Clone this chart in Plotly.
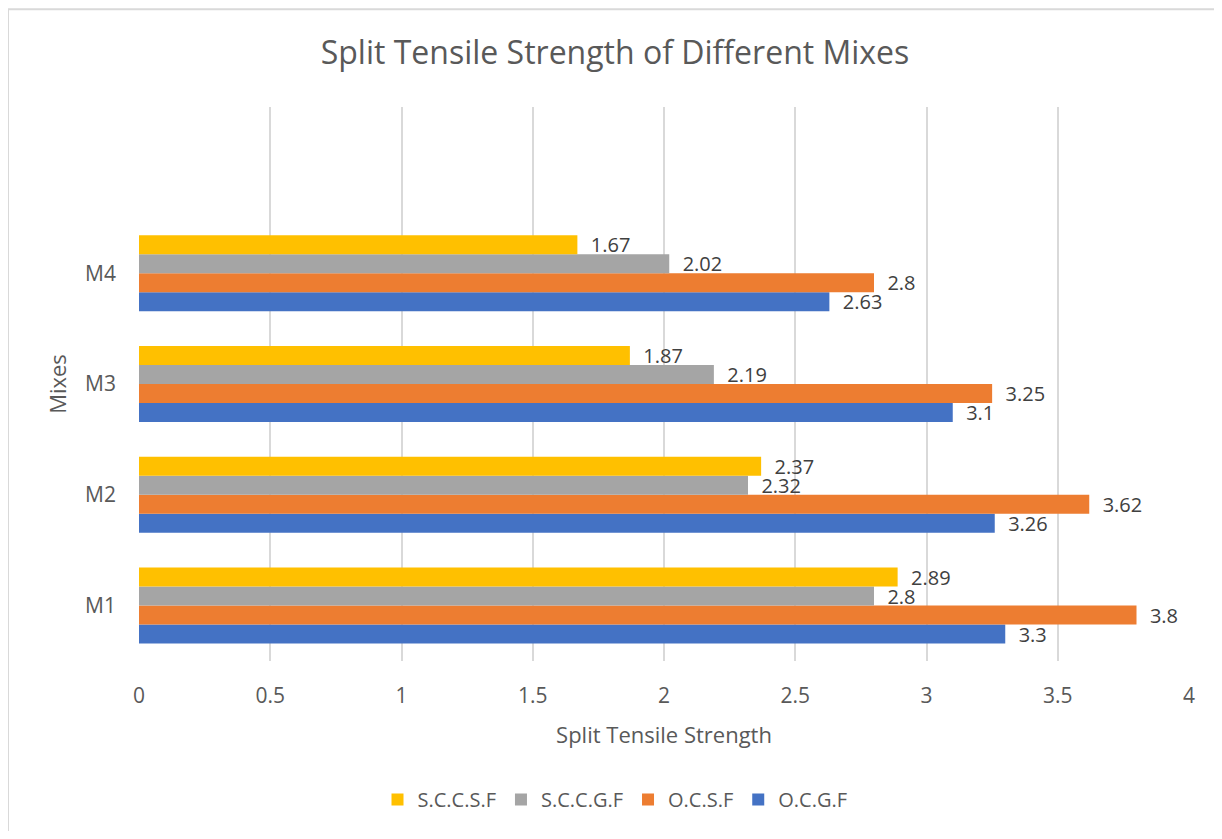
import plotly.graph_objects as go

categories = ["M1", "M2", "M3", "M4"]
ocgf = [3.3, 3.26, 3.1, 2.63]
ocsf = [3.8, 3.62, 3.25, 2.8]
sccgf = [2.8, 2.32, 2.19, 2.02]
sccsf = [2.89, 2.37, 1.87, 1.67]
x_ticks = [0, 0.5, 1, 1.5, 2, 2.5, 3, 3.5, 4]

series = [
    ("O.C.G.F", ocgf, "#4472C4"),
    ("O.C.S.F", ocsf, "#ED7D31"),
    ("S.C.C.G.F", sccgf, "#A5A5A5"),
    ("S.C.C.S.F", sccsf, "#FFC000"),
]

FONT = "Open Sans"
TXT = "#595959"
OFF = 8  # page body margin

fig = go.Figure()
for name, vals, col in series:
    fig.add_trace(go.Bar(
        y=categories, x=vals, name=name, orientation="h",
        marker=dict(color=col, line=dict(width=0)),
        text=[f"\u00a0\u00a0{v:g}" for v in vals],
        textposition="outside", cliponaxis=False, constraintext="none",
        textfont=dict(family=FONT, size=20, color="#404040"),
    ))

W, H = 1222 - 2 * OFF, 839 - 2 * OFF
L, R, T = 139 - OFF, W - (1189 - OFF), 107 - OFF
B = H - (663 - OFF)
pw, ph = W - L - R, H - T - B

def px(x):
    return (x - OFF - L) / pw

def py(y):
    return (H - B - (y - OFF)) / ph

fig.update_layout(
    width=W, height=H,
    margin=dict(l=L, r=R, t=T, b=B),
    paper_bgcolor="white", plot_bgcolor="white",
    barmode="group", bargap=0.314, bargroupgap=0,
    font=dict(family=FONT, color=TXT),
    title=dict(text="Split Tensile Strength of Different Mixes",
               x=(615 - OFF) / W, xanchor="center", y=1 - (53 - OFF) / H, yanchor="middle",
               yref="container", font=dict(size=32, color=TXT, family=FONT)),
    xaxis=dict(range=[0, 4], tickvals=x_ticks, ticktext=[f"{t:g}" for t in x_ticks],
               showgrid=True, gridcolor="#D9D9D9", gridwidth=2, automargin=False,
               zeroline=False, showline=False, ticks="",
               ticklabelstandoff=20,
               tickfont=dict(size=21, color=TXT, family=FONT),
               title=dict(text="Split Tensile Strength", standoff=19,
                          font=dict(size=22, color=TXT, family=FONT))),
    yaxis=dict(range=[-0.5, 4.5], showgrid=False, zeroline=False, showline=False,
               ticks="", tickfont=dict(size=21, color=TXT, family=FONT),
               ticklabelstandoff=22, automargin=False,
               title=dict(text="Mixes", standoff=12,
                          font=dict(size=22, color=TXT, family=FONT))),
    legend=dict(orientation="h", traceorder="reversed", x=px(615), xanchor="center",
                y=py(802), yanchor="middle",
                font=dict(size=20, color=TXT, family=FONT),
                itemwidth=30, tracegroupgap=0),
    shapes=[dict(type="rect", xref="paper", yref="paper",
                 x0=px(8), x1=px(1220), y0=py(845), y1=py(9),
                 line=dict(color="#D9D9D9", width=2), layer="below")],
)

fig.write_html("out.html")
